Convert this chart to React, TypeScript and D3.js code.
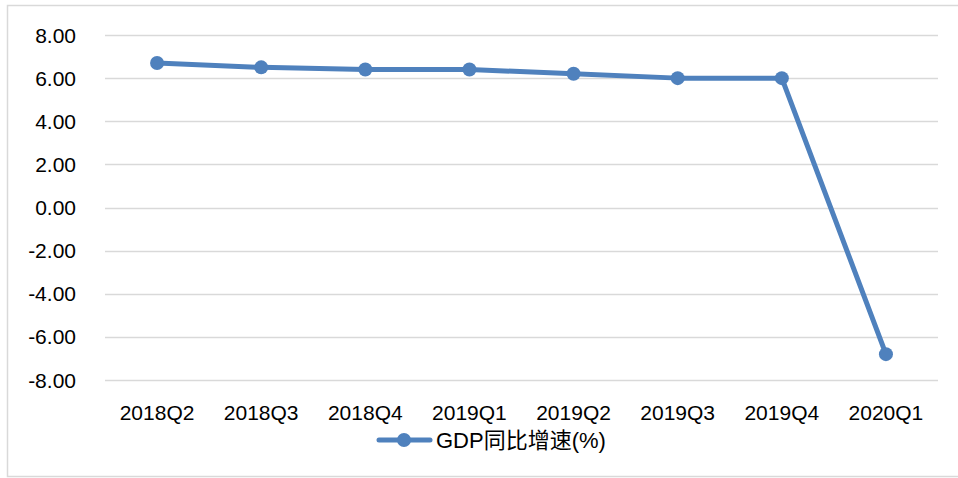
import React, { useEffect, useRef } from 'react';
import * as d3 from 'd3';

const quarters = ['2018Q2', '2018Q3', '2018Q4', '2019Q1', '2019Q2', '2019Q3', '2019Q4', '2020Q1'];
const gdpGrowth = [6.7, 6.5, 6.4, 6.4, 6.2, 6.0, 6.0, -6.8];
const yTicks = [8, 6, 4, 2, 0, -2, -4, -6, -8];
const seriesName = 'GDP同比增速(%)';

function App() {
  const svgRef = useRef<SVGSVGElement>(null);

  useEffect(() => {
    const width = 958;
    const height = 478;
    const font = '"Liberation Sans", Arial, "Noto Sans CJK SC", sans-serif';
    const blue = '#4f81bd';

    const svg = d3.select(svgRef.current);
    svg.selectAll('*').remove();

    svg.append('rect')
      .attr('width', width)
      .attr('height', height)
      .attr('fill', '#fff');

    // chart frame
    svg.append('rect')
      .attr('x', 7.5)
      .attr('y', 5.5)
      .attr('width', 970)
      .attr('height', 471)
      .attr('fill', 'none')
      .attr('stroke', '#d9d9d9')
      .attr('stroke-width', 1.5);

    const x = d3.scaleBand().domain(quarters).range([105, 938]);
    const y = d3.scaleLinear().domain([-8, 8]).range([380, 35]);

    const grid = svg.append('g');
    yTicks.forEach(t => {
      grid.append('line')
        .attr('x1', 105)
        .attr('x2', 938)
        .attr('y1', Math.round(y(t)) + 0.5)
        .attr('y2', Math.round(y(t)) + 0.5)
        .attr('stroke', '#d9d9d9')
        .attr('stroke-width', 1.5);

      svg.append('text')
        .attr('x', 76)
        .attr('y', y(t))
        .attr('dy', '0.36em')
        .attr('text-anchor', 'end')
        .style('font-family', font)
        .style('font-size', '21px')
        .attr('fill', '#000')
        .text(t.toFixed(2));
    });

    quarters.forEach(q => {
      svg.append('text')
        .attr('x', x(q)! + x.bandwidth() / 2)
        .attr('y', 412)
        .attr('dy', '0.36em')
        .attr('text-anchor', 'middle')
        .style('font-family', font)
        .style('font-size', '21px')
        .attr('fill', '#000')
        .text(q);
    });

    const data = quarters.map((q, i) => ({ q, v: gdpGrowth[i] }));
    const line = d3.line<{ q: string; v: number }>()
      .x(d => x(d.q)! + x.bandwidth() / 2)
      .y(d => y(d.v));

    svg.append('path')
      .datum(data)
      .attr('fill', 'none')
      .attr('stroke', blue)
      .attr('stroke-width', 5)
      .attr('stroke-linejoin', 'round')
      .attr('stroke-linecap', 'round')
      .attr('d', line);

    svg.selectAll('circle.pt')
      .data(data)
      .enter()
      .append('circle')
      .attr('class', 'pt')
      .attr('cx', d => x(d.q)! + x.bandwidth() / 2)
      .attr('cy', d => y(d.v))
      .attr('r', 7)
      .attr('fill', blue);

    // legend
    const legend = svg.append('g').attr('transform', 'translate(0,440)');
    legend.append('line')
      .attr('x1', 379)
      .attr('x2', 430)
      .attr('stroke', blue)
      .attr('stroke-width', 5)
      .attr('stroke-linecap', 'round');
    legend.append('circle')
      .attr('cx', 404)
      .attr('r', 7)
      .attr('fill', blue);
    legend.append('text')
      .attr('x', 436)
      .attr('dy', '0.36em')
      .style('font-family', font)
      .style('font-size', '22px')
      .attr('fill', '#000')
      .text(seriesName);
  }, []);

  return (
    <svg
      ref={svgRef}
      width={958}
      height={478}
      style={{ position: 'absolute', left: 0, top: 0, display: 'block' }}
    />
  );
}

export default App;
